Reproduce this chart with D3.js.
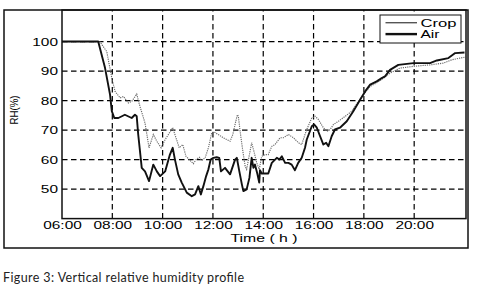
<!DOCTYPE html>
<html>
<head>
<meta charset="utf-8">
<script src="https://d3js.org/d3.v7.min.js"></script>
<style>
  body { margin: 0; background: #fff; }
  text { font-family: "Liberation Sans", Arial, sans-serif; fill: #111; }
</style>
</head>
<body>
<svg id="chart" width="481" height="291"></svg>
<script>
// data (time in decimal hours, RH in %)
const airTime = [6.0, 7.44, 7.71, 7.91, 7.98, 8.08, 8.24, 8.5, 8.77, 8.9, 8.97, 9.03, 9.17, 9.3, 9.46, 9.63, 9.77, 9.9,
  10.1, 10.29, 10.4, 10.49, 10.62, 10.76, 10.96, 11.16, 11.29, 11.42, 11.52, 11.62, 11.73, 11.82, 11.91,
  12.02, 12.15, 12.25, 12.32, 12.48, 12.68, 12.88, 12.95, 13.05, 13.15, 13.21, 13.34, 13.45, 13.54, 13.61, 13.67, 13.77, 13.84, 13.87, 13.94,
  14.2, 14.34, 14.54, 14.64, 14.74, 14.87, 15.0, 15.13, 15.26, 15.39, 15.53, 15.66, 15.73, 15.93,
  16.02, 16.13, 16.26, 16.39, 16.5, 16.59, 16.72, 16.85, 17.05, 17.32, 17.58, 17.85, 18.05, 18.25, 18.51, 18.71, 18.84,
  19.04, 19.37, 19.97, 20.63, 20.9, 21.36, 21.63, 22.0];
const airRH = [100, 100, 91.1, 82, 76.4, 74.1, 74.1, 75.2, 74.1, 75.2, 74.7, 68.5, 57.2, 56, 52.7, 58.3, 56, 54.4,
  56, 61.7, 64, 60, 55, 52.2, 48.8, 47.6, 48.2, 51, 48.2, 51, 54.4, 56.7, 60,
  60.6, 60.8, 60.6, 56, 57.2, 55, 60, 60.6, 56, 51.6, 49.3, 49.9, 53.8, 60.6, 57.2, 58.3, 55, 52.2, 56.4, 55.3,
  55.3, 58.9, 60.6, 60, 61.1, 58.9, 58.9, 58.3, 56.4, 58.9, 60.6, 64, 66.8, 71.3,
  71.9, 70.8, 67.9, 65.1, 65.7, 64.5, 67.9, 70.2, 70.8, 73, 76.4, 80.3, 83.1, 85.4, 86.5, 87.6, 88.2,
  90.4, 92.1, 92.7, 92.7, 93.6, 94.4, 96.1, 96.3];

const cropTime = [6.0, 7.5, 7.78, 7.98, 8.11, 8.31, 8.44, 8.64, 8.77, 8.97, 9.1, 9.3, 9.46, 9.63, 9.77, 9.94,
  10.1, 10.23, 10.4, 10.53, 10.66, 10.8, 10.93, 11.06, 11.22, 11.33, 11.46, 11.55, 11.69, 11.82, 11.95,
  12.04, 12.21, 12.41, 12.68, 12.79, 12.88, 12.97, 13.01, 13.08, 13.19, 13.28, 13.34, 13.45, 13.54, 13.63, 13.74, 13.84, 13.94,
  14.07, 14.2, 14.34, 14.47, 14.67, 14.8, 15.0, 15.2, 15.4, 15.53, 15.66, 15.73, 15.93,
  16.06, 16.19, 16.39, 16.53, 16.66, 16.79, 16.99, 17.26, 17.52, 17.78, 17.98, 18.25, 18.51, 18.78,
  19.04, 19.44, 19.97, 20.63, 21.16, 21.49, 21.82, 22.0];
const cropRH = [100, 100, 96.6, 87.6, 83.1, 80.9, 81.4, 79.2, 79.7, 82.2, 78, 72.4, 64, 68.5, 66.2, 64,
  66.8, 68.5, 70.8, 67.4, 64, 65.1, 61.1, 60, 58.6, 60, 60.8, 59.7, 60.6, 64, 69,
  69.4, 68.5, 67.4, 66.2, 68.5, 71.9, 75.2, 74.7, 69.6, 62.8, 57.8, 56.7, 61.7, 65.7, 62.8, 58.9, 56.7, 61.1,
  61.7, 61.7, 64.5, 65.1, 67.4, 67.4, 68.5, 67.4, 65.7, 65.1, 68.5, 70.2, 74.1,
  74.7, 73.6, 70.8, 69.6, 70.2, 71.9, 73, 74.7, 76.4, 79.7, 82, 84.8, 86, 87.6,
  89.3, 91, 91.6, 92.1, 92.7, 93.8, 94.4, 94.7];

const xTickHours = [6, 8, 10, 12, 14, 16, 18, 20];
const xTickLabels = ["06:00", "08:00", "10:00", "12:00", "14:00", "16:00", "18:00", "20:00"];
const yTicks = [50, 60, 70, 80, 90, 100];
const seriesNames = ["Crop", "Air"];

const svg = d3.select("#chart");
const plotLeft = 62, plotRight = 466, plotTop = 10, plotBottom = 218.6;

const x = d3.scaleLinear().domain([6, 22.06]).range([plotLeft, plotRight]);
const y = d3.scaleLinear().domain([40, 110.7]).range([plotBottom, plotTop]);

// outer figure frame
svg.append("rect")
  .attr("x", 4).attr("y", 10).attr("width", 464).attr("height", 238)
  .attr("fill", "none").attr("stroke", "#111").attr("stroke-width", 1.5);

// grid
svg.append("g").selectAll("line").data(yTicks).join("line")
  .attr("x1", plotLeft).attr("x2", plotRight)
  .attr("y1", d => y(d)).attr("y2", d => y(d))
  .attr("stroke", "#000").attr("stroke-width", 1.2)
  .attr("stroke-dasharray", "5.5,3.5");
svg.append("g").selectAll("line").data(xTickHours.slice(1)).join("line")
  .attr("x1", d => x(d)).attr("x2", d => x(d))
  .attr("y1", plotBottom).attr("y2", plotTop)
  .attr("stroke", "#000").attr("stroke-width", 1.2)
  .attr("stroke-dasharray", "5.5,3.5");

// axes
const xAxis = d3.axisBottom(x).tickValues(xTickHours)
  .tickFormat((d, i) => xTickLabels[i]).tickSize(0).tickPadding(3);
const gx = svg.append("g").attr("transform", `translate(0,${plotBottom})`).call(xAxis);
const yAxis = d3.axisLeft(y).tickValues(yTicks).tickSize(0).tickPadding(4);
const gy = svg.append("g").attr("transform", `translate(${plotLeft},0)`).call(yAxis);
[gx, gy].forEach(g => {
  g.select(".domain").remove();
  g.selectAll("text")
    .attr("font-size", 11)
    .style("font-family", "'Liberation Sans', Arial, sans-serif")
    .style("fill", "#000")
    .each(function () {
      const w = this.getComputedTextLength();
      d3.select(this).attr("textLength", w * 1.4).attr("lengthAdjust", "spacingAndGlyphs");
    });
});

// lines
const line = d3.line().x(d => x(d[0])).y(d => y(d[1]));
svg.append("path")
  .datum(cropTime.map((t, i) => [t, cropRH[i]]))
  .attr("d", line).attr("fill", "none")
  .attr("stroke", "#6a6a6a").attr("stroke-width", 1.15)
  .attr("stroke-dasharray", "1.2,1");
svg.append("path")
  .datum(airTime.map((t, i) => [t, airRH[i]]))
  .attr("d", line).attr("fill", "none")
  .attr("stroke", "#111").attr("stroke-width", 1.9)
  .attr("stroke-linejoin", "round");

// plot box
svg.append("rect")
  .attr("x", plotLeft).attr("y", plotTop)
  .attr("width", plotRight - plotLeft).attr("height", plotBottom - plotTop)
  .attr("fill", "none").attr("stroke", "#111").attr("stroke-width", 1.5);

// axis titles
svg.append("text")
  .attr("x", 264).attr("y", 241.5)
  .attr("text-anchor", "middle").attr("font-size", 11)
  .attr("textLength", 67).attr("lengthAdjust", "spacingAndGlyphs")
  .style("fill", "#000")
  .text("Time ( h )");
svg.append("text")
  .attr("transform", "translate(18,110) rotate(-90)")
  .attr("text-anchor", "middle").attr("font-size", 11.5)
  .attr("textLength", 29).attr("lengthAdjust", "spacingAndGlyphs")
  .style("fill", "#000")
  .text("RH(%)");

// legend
const lg = svg.append("g");
lg.append("rect")
  .attr("x", 380).attr("y", 15).attr("width", 81).attr("height", 28)
  .attr("fill", "#fff").attr("stroke", "#111").attr("stroke-width", 1);
const legStroke = ["#555", "#111"];
const legWidth = [1.4, 2.4];
const legText = [36, 19];
seriesNames.forEach((name, i) => {
  const ly = 22.7 + i * 11.4;
  lg.append("line")
    .attr("x1", 385.5).attr("x2", 417).attr("y1", ly).attr("y2", ly)
    .attr("stroke", legStroke[i]).attr("stroke-width", legWidth[i]);
  lg.append("text")
    .attr("x", 420.5).attr("y", ly + 4)
    .attr("font-size", 11)
    .attr("textLength", legText[i]).attr("lengthAdjust", "spacingAndGlyphs")
    .style("fill", "#000")
    .text(name);
});

// caption
svg.append("text")
  .attr("x", 3).attr("y", 281.5)
  .style("font-family", "Lato, 'Open Sans', sans-serif")
  .attr("font-size", 12.5).style("fill", "#222")
  .attr("textLength", 241).attr("lengthAdjust", "spacing")
  .text("Figure 3: Vertical relative humidity profile");
</script>
</body>
</html>
